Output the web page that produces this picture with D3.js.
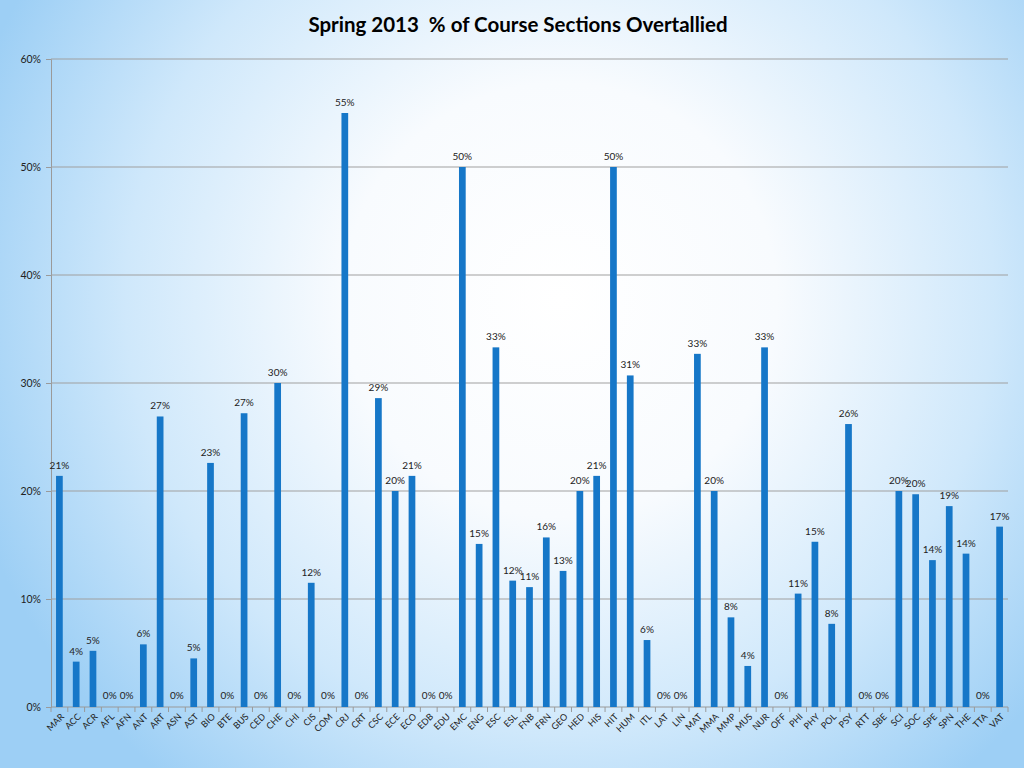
<!DOCTYPE html>
<html>
<head>
<meta charset="utf-8">
<script src="https://cdn.jsdelivr.net/npm/d3@7"></script>
<style>
  html, body { margin: 0; padding: 0; }
  body { width: 1024px; height: 768px; overflow: hidden; }
  text { font-family: Lato, "Open Sans", sans-serif; }
</style>
</head>
<body>
<svg id="chart"></svg>
<script>
const width = 1024;
const height = 768;

const departments = [
  "MAR", "ACC", "ACR", "AFL", "AFN", "ANT", "ART", "ASN", "AST", "BIO",
  "BTE", "BUS", "CED", "CHE", "CHI", "CIS", "COM", "CRJ", "CRT", "CSC",
  "ECE", "ECO", "EDB", "EDU", "EMC", "ENG", "ESC", "ESL", "FNB", "FRN",
  "GEO", "HED", "HIS", "HIT", "HUM", "ITL", "LAT", "LIN", "MAT", "MMA",
  "MMP", "MUS", "NUR", "OFF", "PHI", "PHY", "POL", "PSY", "RTT", "SBE",
  "SCI", "SOC", "SPE", "SPN", "THE", "TTA", "VAT"
];

const overtallied = [
  0.214, 0.042, 0.052, 0, 0, 0.058, 0.269, 0, 0.045, 0.226,
  0, 0.272, 0, 0.30, 0, 0.115, 0, 0.55, 0, 0.286,
  0.20, 0.214, 0, 0, 0.50, 0.151, 0.333, 0.117, 0.111, 0.157,
  0.126, 0.20, 0.214, 0.50, 0.307, 0.062, 0, 0, 0.327, 0.20,
  0.083, 0.038, 0.333, 0, 0.105, 0.153, 0.077, 0.262, 0, 0,
  0.20, 0.197, 0.136, 0.186, 0.142, 0, 0.167
];

const yTicks = [0, 0.1, 0.2, 0.3, 0.4, 0.5, 0.6];

const data = departments.map((d, i) => ({ name: d, value: overtallied[i] }));

const margin = { top: 59, right: 16, bottom: 61, left: 51 };

const svg = d3.select("#chart")
  .attr("width", width)
  .attr("height", height);

// slide background
const defs = svg.append("defs");
const grad = defs.append("radialGradient")
  .attr("id", "bg")
  .attr("gradientUnits", "userSpaceOnUse")
  .attr("cx", 560).attr("cy", 300).attr("r", 620);
grad.append("stop").attr("offset", "0%").attr("stop-color", "#ffffff");
grad.append("stop").attr("offset", "35%").attr("stop-color", "#f8fbfe");
grad.append("stop").attr("offset", "70%").attr("stop-color", "#cfe8fb");
grad.append("stop").attr("offset", "100%").attr("stop-color", "#9dcff5");

svg.append("rect")
  .attr("width", width)
  .attr("height", height)
  .attr("fill", "url(#bg)");

const x = d3.scaleBand()
  .domain(departments)
  .range([margin.left, width - margin.right])
  .paddingInner(0.6)
  .paddingOuter(0.3);

const y = d3.scaleLinear()
  .domain([0, 0.6])
  .range([height - margin.bottom, margin.top]);

// title
svg.append("text")
  .attr("x", 518)
  .attr("y", 32)
  .attr("text-anchor", "middle")
  .style("font-size", "20.5px")
  .style("font-weight", "bold")
  .style("white-space", "pre")
  .attr("xml:space", "preserve")
  .attr("fill", "#000")
  .text("Spring 2013  % of Course Sections Overtallied");

// gridlines + y axis
const yAxis = svg.append("g")
  .attr("transform", `translate(${margin.left},0)`)
  .call(d3.axisLeft(y)
    .tickValues(yTicks)
    .tickFormat(d3.format(".0%"))
    .tickSize(5)
    .tickPadding(5));

yAxis.select(".domain").attr("stroke", "#9a9a9a");
yAxis.selectAll(".tick line").attr("stroke", "#9a9a9a");
yAxis.selectAll(".tick text")
  .style("font-size", "10.5px")
  .style("font-family", "Lato, sans-serif")
  .attr("fill", "#222");

svg.append("g")
  .selectAll("line")
  .data(yTicks.filter(d => d > 0))
  .join("line")
  .attr("x1", margin.left)
  .attr("x2", width - margin.right)
  .attr("y1", d => y(d))
  .attr("y2", d => y(d))
  .attr("stroke", "#a0a0a0")
  .attr("stroke-width", 1.2);

// x axis
const step = x.step();
const gap = step - x.bandwidth();
svg.append("line")
  .attr("x1", margin.left)
  .attr("x2", width - margin.right)
  .attr("y1", y(0))
  .attr("y2", y(0))
  .attr("stroke", "#9a9a9a")
  .attr("stroke-width", 1.2);

svg.append("g")
  .selectAll("line")
  .data(departments)
  .join("line")
  .attr("x1", d => x(d) - gap / 2)
  .attr("x2", d => x(d) - gap / 2)
  .attr("y1", y(0))
  .attr("y2", y(0) + 5)
  .attr("stroke", "#9a9a9a");

svg.append("line")
  .attr("x1", width - margin.right)
  .attr("x2", width - margin.right)
  .attr("y1", y(0))
  .attr("y2", y(0) + 5)
  .attr("stroke", "#9a9a9a");

svg.append("g")
  .selectAll("text")
  .data(departments)
  .join("text")
  .attr("transform", d => `translate(${x(d) + x.bandwidth() / 2 + 3},${y(0) + 8}) rotate(-45)`)
  .attr("text-anchor", "end")
  .attr("dy", "0.35em")
  .style("font-size", "9px")
  .attr("fill", "#222")
  .text(d => d);

// bars
svg.append("g")
  .selectAll("rect")
  .data(data)
  .join("rect")
  .attr("x", d => x(d.name))
  .attr("y", d => y(d.value))
  .attr("width", x.bandwidth())
  .attr("height", d => y(0) - y(d.value))
  .attr("fill", "#1677c8");

// value labels
svg.append("g")
  .selectAll("text")
  .data(data)
  .join("text")
  .attr("x", d => x(d.name) + x.bandwidth() / 2)
  .attr("y", d => d.value > 0 ? y(d.value) - 7 : y(0) - 8)
  .attr("text-anchor", "middle")
  .style("font-size", "10px")
  .attr("fill", "#222")
  .text(d => d3.format(".0%")(d.value));
</script>
</body>
</html>
